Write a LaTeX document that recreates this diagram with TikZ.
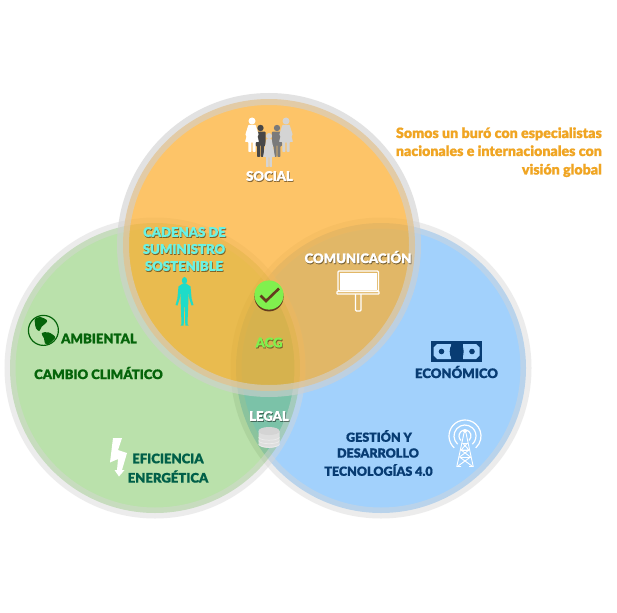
\documentclass[tikz,border=0pt]{standalone}
\usepackage{fontspec}
\setmainfont{Lato}[BoldFont={Lato Black},BoldFeatures={FakeBold=0.8}]
\definecolor{blueC}{RGB}{71,165,251}
\definecolor{greenC}{RGB}{46,164,0}
\definecolor{orangeC}{RGB}{253,172,41}
\definecolor{ringSoft}{RGB}{215,215,215}
\definecolor{ringOrange}{RGB}{208,208,208}
\definecolor{forest}{RGB}{5,100,10}
\definecolor{pine}{RGB}{0,95,72}
\definecolor{navy}{RGB}{8,60,115}
\definecolor{aqua}{RGB}{105,242,228}
\definecolor{lime}{RGB}{128,240,78}
\definecolor{amber}{RGB}{240,165,35}
\definecolor{paleblue}{RGB}{163,210,253}
\definecolor{turq}{RGB}{30,220,200}
\definecolor{brownmark}{RGB}{100,60,30}
\newcommand{\figwoman}[3]{%
  \begin{scope}[shift={(#1,#2)}]
    \fill[#3] (0,0) circle (3.5);
    \fill[#3,rounded corners=.8pt] (-3.6,3.8) -- (3.6,3.8) -- (6.8,14) -- (5.4,15) -- (7,21) -- (3.6,21) -- (3.6,31) -- (.7,31) -- (.7,21)
      -- (-.7,21) -- (-.7,31) -- (-3.6,31) -- (-3.6,21) -- (-7,21) -- (-5.4,15) -- (-6.8,14) -- cycle;
  \end{scope}}
\newcommand{\figman}[3]{%
  \begin{scope}[shift={(#1,#2)}]
    \fill[#3] (0,0) circle (3.2);
    \fill[#3,rounded corners=.8pt] (-5,3.6) -- (5,3.6) -- (5.2,18) -- (3.4,18) -- (3.4,29) -- (.4,29) -- (.4,17)
      -- (-.4,17) -- (-.4,29) -- (-3.4,29) -- (-3.4,18) -- (-5.2,18) -- cycle;
  \end{scope}}
\newcommand{\shadowlabel}[5][lbl]{%
  \node[#1,text=black,text opacity=.42] at ([shift={(.7,1.1)}]#3) {#5};
  \node[#1,text=#4] (#2) at (#3) {#5};}
\tikzset{
  lbl/.style={font=\fontsize{13.1}{15}\selectfont\bfseries,inner sep=0pt},
  lblsmall/.style={lbl,font=\fontsize{12.5}{15}\selectfont\bfseries},
  claim/.style={font=\fontsize{14.2}{15}\selectfont\bfseries,inner sep=0pt,text=amber,anchor=base east},
  disc/.style={fill opacity=#1,draw=none},
  ring/.style={draw opacity=#1,fill=none}
}
\begin{document}
\begin{tikzpicture}[x=1pt,y=-1pt]
\useasboundingbox (0,0) rectangle (617,612);
\fill[white] (0,0) rectangle (617,612);

% Venn discs, back to front
\fill[blueC,disc=.5] (381,368) circle (145);
\draw[ringSoft,ring=.45,line width=11pt] (381,368) circle (145);
\fill[greenC,disc=.33] (155,368) circle (145);
\draw[ringSoft,ring=.45,line width=11pt] (155,368) circle (145);
\fill[orangeC,disc=.7] (269,245) circle (146);
\draw[ringOrange,ring=.6,line width=12pt] (269,245) circle (146);

% Family group
\figman{260.5}{128}{black!72}
\figman{277}{128}{black!52}
\figwoman{252}{121}{white}
\figwoman{286}{121}{black!17}
\begin{scope}[shift={(269,136)}]
  \fill[black!17] (0,0) circle (3);
  \fill[black!17,rounded corners=.6pt] (-2.6,3.2) -- (2.6,3.2) -- (6,21) -- (2.9,21) -- (2.9,31) -- (.4,31) -- (.4,21)
    -- (-.4,21) -- (-.4,31) -- (-2.9,31) -- (-2.9,21) -- (-6,21) -- cycle;
\end{scope}

% Standing figure
\begin{scope}[shift={(184.5,277)}]
  \fill[turq] (0,3.6) ellipse (2.6 and 3.6);
  \fill[turq] (-1.6,6.5) -- (1.6,6.5) -- (6,9.5) -- (7.2,22) -- (9,28) -- (7,28.5) -- (4.6,21)
    -- (4,14) -- (3.8,26) -- (3.4,36) -- (3,47) -- (4,48.5) -- (.8,48.5) -- (.4,30) -- (-.4,30)
    -- (-.8,48.5) -- (-4,48.5) -- (-3,47) -- (-3.4,36) -- (-3.8,26) -- (-4,14) -- (-4.6,21)
    -- (-7,28.5) -- (-9,28) -- (-7.2,22) -- (-6,9.5) -- cycle;
\end{scope}

% Check badge
\fill[brownmark] (269,296.8) circle (14.6);
\fill[lime] (269,295) circle (14.6);
\draw[brownmark,line width=2.6pt] (260.5,295.5) -- (266,301) -- (279,288.5);

% Globe
\draw[forest,line width=1.2pt] (43.4,330.4) circle (15);
\fill[forest] plot[smooth cycle,tension=.6] coordinates {(35,319) (40,317) (46.7,320) (46,323) (41.7,326.7) (39.3,331) (36,328.3) (35,323.3)};
\fill[forest] plot[smooth cycle,tension=.6] coordinates {(41.7,333.3) (48.3,332.3) (55,336.7) (53.3,340) (48.3,344.3) (45,343.3) (44,338.3)};

% Lightning bolt
\fill[white] (113,438) -- (122,438) -- (118,450) -- (127,453) -- (122,470) -- (124.5,470)
  -- (119,476.5) -- (114.5,470) -- (117,470) -- (118,459) -- (110,462.5) -- cycle;

% Billboard
\draw[white,line width=1.1pt,rounded corners=1pt] (338,271) rectangle (378.5,291);
\fill[white] (339.5,272.5) rectangle (377,289.5);
\draw[white,line width=1.1pt,rounded corners=.5pt] (337,291.5) rectangle (379,294);
\draw[white,line width=1.2pt,rounded corners=1pt] (355.5,294) -- (355.5,311) -- (361,311) -- (361,294);

% Banknote
\fill[navy] (431,341) rectangle (482,362);
\fill[paleblue] (437,344) -- (451,344) -- (451,359) -- (437,359) -- (433.5,355.5) -- (433.5,347.5) -- cycle;
\fill[paleblue] (463,344) -- (476,344) -- (479.5,347.5) -- (479.5,355.5) -- (476,359) -- (463,359) -- cycle;
\fill[navy] (456.7,351.5) ellipse (7 and 10);
\fill[navy] (441.5,351.5) circle (2.8);
\fill[navy] (472,351.5) circle (2.8);

% Radio mast: signal arcs open towards the base
\begin{scope}[white,line width=1.2pt]
  \draw (465,436) ++(132:6) arc[start angle=132,end angle=408,radius=6];
  \draw (465,436) ++(132:11) arc[start angle=132,end angle=408,radius=11];
  \draw (465,436) ++(132:16) arc[start angle=132,end angle=408,radius=16];
\end{scope}
\begin{scope}[white,line width=.9pt]
  \fill (465,431) circle (2);
  \draw (464,433) -- (456.8,466.5) -- (461,466.5);
  \draw (466,433) -- (473.2,466.5) -- (469,466.5);
  \draw (462.5,443) -- (467.5,443) (461,450) -- (469,450) (459.5,457) -- (470.5,457);
  \draw (462.5,443) -- (469,450) -- (461,450) -- (467.5,443);
  \draw (461,450) -- (470.5,457) (469,450) -- (459.5,457);
  \draw (459.5,457) -- (472,466) (470.5,457) -- (458,466);
\end{scope}

% Stack of coins
\fill[black!13] (258.5,431) -- (279.5,431) -- (279.5,444) arc[start angle=0,end angle=180,x radius=10.5,y radius=4] -- cycle;
\fill[black!17] (269,431) ellipse (10.5 and 4);
\foreach \yy in {437,440.5,444}
  \draw[white,opacity=.4,line width=.7pt] (258.5,\yy) arc[start angle=180,end angle=0,x radius=10.5,y radius=3.2];

% Labels
\shadowlabel{social}{269.5,176}{white}{SOCIAL}
\shadowlabel{cad1}{184.5,232}{aqua}{CADENAS DE}
\shadowlabel{cad2}{184,249}{aqua}{SUMINISTRO}
\shadowlabel{cad3}{184,266}{aqua}{SOSTENIBLE}
\shadowlabel{comu}{358,257}{white}{COMUNICACIÓN}
\shadowlabel{acg}{269,342.5}{lime}{ACG}
\shadowlabel{legal}{269,416}{white}{LEGAL}
\node[lbl,text=forest] (amb) at (99,338.5) {AMBIENTAL};
\node[lbl,text=forest] (cambio) at (98.5,373) {CAMBIO CLIMÁTICO};
\node[lbl,text=pine] (efi) at (168,458.5) {EFICIENCIA};
\node[lbl,text=pine] (ene) at (168,476.5) {ENERGÉTICA};
\node[lbl,text=navy] (eco) at (456.5,372) {ECONÓMICO};
\node[lblsmall,text=navy] (ges1) at (379,436) {GESTIÓN Y};
\node[lblsmall,text=navy] (ges2) at (378,453) {DESARROLLO};
\node[lblsmall,text=navy] (ges3) at (378.5,470) {TECNOLOGÍAS 4.0};
\node[claim] (c1) at (602,138) {Somos un buró con especialistas};
\node[claim] (c2) at (602,156) {nacionales e internacionales con};
\node[claim] (c3) at (602,174.5) {visión global};
\end{tikzpicture}
\end{document}
